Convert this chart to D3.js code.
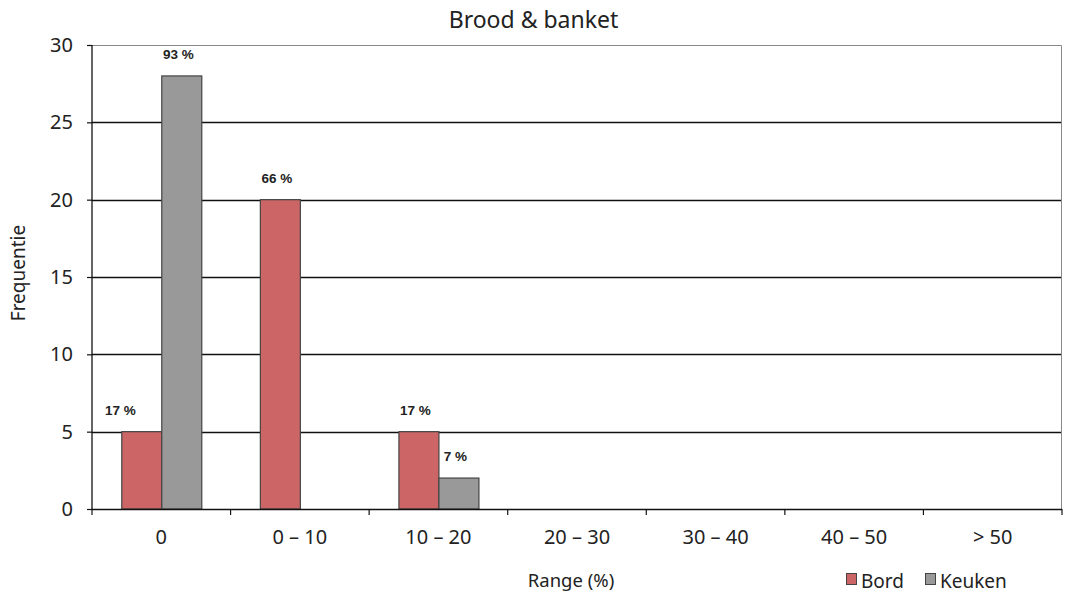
<!DOCTYPE html>
<html>
<head>
<meta charset="utf-8">
<script src="https://cdn.jsdelivr.net/npm/d3@7"></script>
<style>
  html, body { margin: 0; padding: 0; background: #fff; }
  svg { display: block; }
</style>
</head>
<body>
<svg id="chart" width="1066" height="596"></svg>
<script>
// Frequency of deviation ranges, per measuring location
const categories = ["0", "0 – 10", "10 – 20", "20 – 30", "30 – 40", "40 – 50", "> 50"];
const seriesNames = ["Bord", "Keuken"];
const bordValues = [5, 20, 5, 0, 0, 0, 0];
const keukenValues = [28, 0, 2, 0, 0, 0, 0];
const bordLabels = ["17 %", "66 %", "17 %", "", "", "", ""];
const keukenLabels = ["93 %", "", "7 %", "", "", "", ""];
const yTicks = [0, 5, 10, 15, 20, 25, 30];
const colors = { Bord: "#cc6666", Keuken: "#999999" };

const FONT = "Noto Sans, DejaVu Sans, sans-serif";
const svg = d3.select("#chart");
const margin = { left: 92, right: 4, top: 45, bottom: 87 };
const W = 1066, H = 596;
const plotW = W - margin.left - margin.right;
const plotH = H - margin.top - margin.bottom;

const g = svg.append("g").attr("transform", `translate(${margin.left},${margin.top})`);

const x = d3.scaleBand().domain(categories).range([0, plotW]).paddingInner(0).paddingOuter(0);
const xs = d3.scaleBand().domain(seriesNames).range([x.bandwidth() / 2 - 40, x.bandwidth() / 2 + 40]);
const y = d3.scaleLinear().domain([0, 30]).range([plotH, 0]);

// horizontal gridlines
g.append("g").selectAll("line").data(yTicks.filter(t => t > 0 && t < 30)).join("line")
  .attr("x1", 0).attr("x2", plotW)
  .attr("y1", d => Math.round(y(d)) + 0.5).attr("y2", d => Math.round(y(d)) + 0.5)
  .attr("stroke", "#111").attr("stroke-width", 1.3);

// plot border on top and right
g.append("path")
  .attr("d", `M0,${y(30) + 0.5}H${plotW - 0.5}V${plotH}`)
  .attr("fill", "none").attr("stroke", "#888").attr("stroke-width", 1);

// bars
const rows = categories.map((c, i) => ({
  cat: c,
  items: [
    { s: "Bord", v: bordValues[i], label: bordLabels[i] },
    { s: "Keuken", v: keukenValues[i], label: keukenLabels[i] }
  ]
}));

const grp = g.selectAll("g.cat").data(rows).join("g")
  .attr("class", "cat")
  .attr("transform", d => `translate(${x(d.cat)},0)`);

grp.selectAll("rect").data(d => d.items.filter(it => it.v > 0)).join("rect")
  .attr("x", d => xs(d.s) + 0.5)
  .attr("y", d => y(d.v))
  .attr("width", xs.bandwidth())
  .attr("height", d => y(0) - y(d.v))
  .attr("fill", d => colors[d.s])
  .attr("stroke", "#444").attr("stroke-width", 1.2);

// value labels above bars
grp.selectAll("text.val").data((d, i) => d.items.filter(it => it.label).map(it => ({ ...it, ci: i }))).join("text")
  .attr("class", "val")
  .attr("x", d => xs(d.s) + xs.bandwidth() / 2 - 3 - (d.ci === 0 && d.s === "Bord" ? 18 : 0))
  .attr("y", d => y(d.v) - 17)
  .attr("text-anchor", "middle")
  .attr("font-family", "Liberation Sans, Arial, sans-serif")
  .attr("font-weight", "bold")
  .attr("font-size", 13.5)
  .attr("fill", "#222")
  .text(d => d.label);

// y axis
const yAxis = d3.axisLeft(y).tickValues(yTicks).tickSize(5).tickPadding(14);
const ya = g.append("g").call(yAxis);
ya.select(".domain").attr("stroke", "#111").attr("stroke-width", 1.3).attr("d", `M0,${plotH}V0`);
ya.selectAll(".tick line").attr("stroke", "#111").attr("stroke-width", 1.2);
ya.selectAll(".tick text").attr("font-family", FONT).attr("font-size", 20).attr("fill", "#222");

// x axis
const xTickPos = categories.map(c => x(c)).concat([plotW]);
const xa = g.append("g").attr("transform", `translate(0,${plotH})`);
xa.append("line").attr("x1", 0).attr("x2", plotW).attr("y1", 0.5).attr("y2", 0.5)
  .attr("stroke", "#111").attr("stroke-width", 1.3);
xa.selectAll("line.tk").data(xTickPos).join("line").attr("class", "tk")
  .attr("x1", d => d).attr("x2", d => d).attr("y1", 0).attr("y2", 6)
  .attr("stroke", "#111").attr("stroke-width", 1.2);
xa.selectAll("text").data(categories).join("text")
  .attr("x", d => x(d) + x.bandwidth() / 2)
  .attr("y", 35)
  .attr("text-anchor", "middle")
  .attr("font-family", FONT)
  .attr("font-size", 20)
  .attr("fill", "#222")
  .text(d => d);

// title
svg.append("text").attr("x", 533.5).attr("y", 28).attr("text-anchor", "middle")
  .attr("font-family", FONT).attr("font-size", 23).attr("fill", "#222")
  .text("Brood & banket");

// axis titles
svg.append("text").attr("x", 571).attr("y", 587).attr("text-anchor", "middle")
  .attr("font-family", FONT).attr("font-size", 18.5).attr("fill", "#222")
  .text("Range (%)");
svg.append("text").attr("transform", "translate(25,273) rotate(-90)").attr("text-anchor", "middle")
  .attr("font-family", FONT).attr("font-size", 19).attr("fill", "#222")
  .text("Frequentie");

// legend
const legend = svg.append("g").attr("transform", "translate(846,573)");
const legX = [0, 79];
seriesNames.forEach((s, i) => {
  const lg = legend.append("g").attr("transform", `translate(${legX[i]},0)`);
  lg.append("rect").attr("x", 0.5).attr("y", 0.5).attr("width", 10).attr("height", 11)
    .attr("fill", colors[s]).attr("stroke", "#444").attr("stroke-width", 1);
  lg.append("text").attr("x", 15).attr("y", 15)
    .attr("font-family", FONT).attr("font-size", 19).attr("fill", "#222")
    .text(s);
});
</script>
</body>
</html>
